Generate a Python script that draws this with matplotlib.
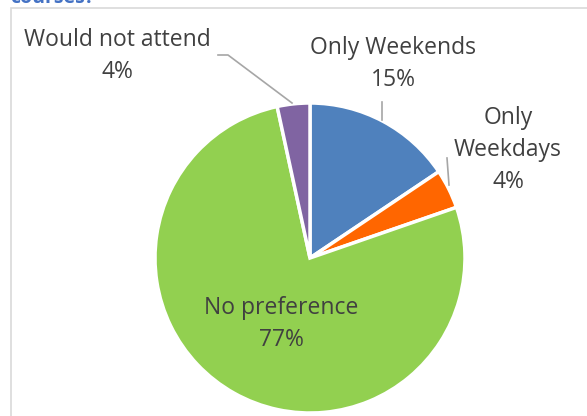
import matplotlib.pyplot as plt
from matplotlib.patches import Rectangle

# data
labels = ['Only Weekends', 'Only Weekdays', 'No preference', 'Would not attend']
label_text = ['Only Weekends', 'Only\nWeekdays', 'No preference', 'Would not attend']
shares = [15.6, 4.1, 76.9, 3.4]
pct_text = ['15%', '4%', '77%', '4%']
colors = ['#4F81BD', '#FF6600', '#92D050', '#8064A2']

W, H = 587, 416
cx, cy, r = 310, 258, 155

plt.rcParams['font.family'] = ['Open Sans', 'DejaVu Sans']
fig = plt.figure(figsize=(W / 100, H / 100), dpi=100)
fig.patch.set_facecolor('white')

# chart border (runs off the right and bottom) and cut-off title
fig.patches.append(Rectangle((10.5 / W, -0.05), 1.1, 1.05 - 8 / H,
                             transform=fig.transFigure, fill=False,
                             edgecolor='#D9D9D9', linewidth=1.2))
fig.text(10 / W, 1 - 3 / H, 'courses?', color='#4472C4', fontsize=14,
         fontweight='bold', va='baseline', ha='left')

ax = fig.add_axes([(cx - r) / W, (H - cy - r) / H, 2 * r / W, 2 * r / H])
ax.pie(shares, colors=colors, startangle=90, counterclock=False, radius=1,
       wedgeprops=dict(edgecolor='white', linewidth=2.5))
ax.set_xlim(-1, 1)
ax.set_ylim(-1, 1)
ax.axis('off')


def px(x, y):
    return (x - cx) / r, (cy - y) / r


# label positions (pixel centres of each block)
label_pos = [(393, 64), (508, 150), (281, 324), (117, 56)]
for lab, pct, (x, y) in zip(label_text, pct_text, label_pos):
    ax.text(*px(x, y), f'{lab}\n{pct}', ha='center', va='center',
            fontsize=16.5, color='#404040', linespacing=1.42, clip_on=False)

# leader lines
leaders = [
    [(382, 102), (382, 120)],
    [(447, 158), (449, 185)],
    [(218, 55), (228, 55), (292, 103)],
]
for pts in leaders:
    xs, ys = zip(*[px(x, y) for x, y in pts])
    ax.plot(xs, ys, color='#A6A6A6', linewidth=1.2, clip_on=False)

fig.savefig('out.png', dpi=100, facecolor='white')
